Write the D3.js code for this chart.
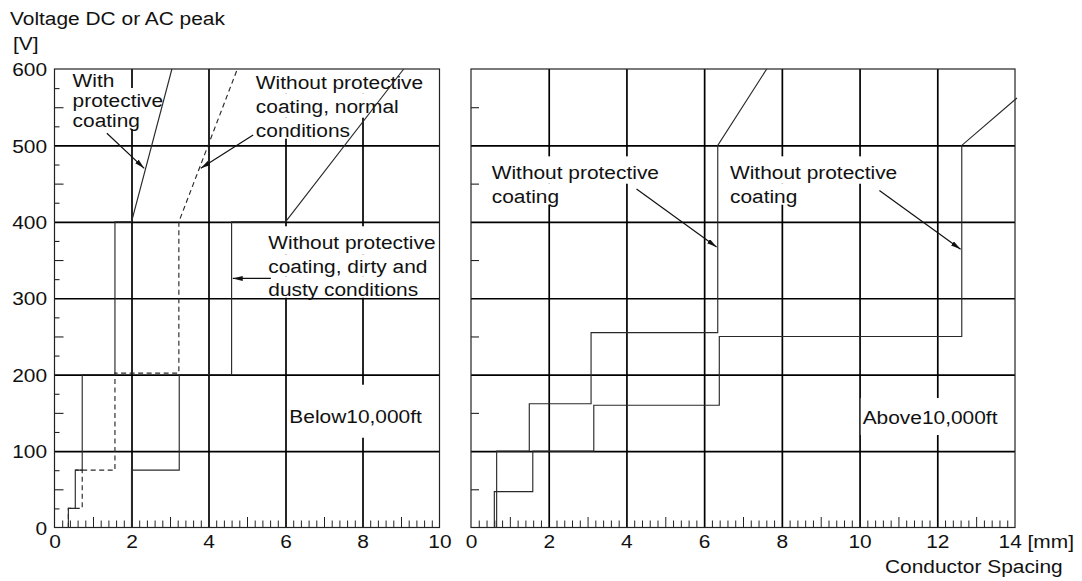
<!DOCTYPE html>
<html><head><meta charset="utf-8">
<script src="https://cdn.jsdelivr.net/npm/d3@7"></script>
<style>
body{margin:0;background:#fff;}
svg{display:block;}
text{font-family:"Liberation Sans",Arial,Helvetica,sans-serif;font-size:19px;fill:#111;}
</style></head><body>
<svg id="c" width="1082" height="581"></svg>
<script>
// ---------- data ----------
const yTicks = [0, 100, 200, 300, 400, 500, 600];
const xTicksLeft = [0, 2, 4, 6, 8, 10];
const xTicksRight = [0, 2, 4, 6, 8, 10, 12, 14];

// Below 10,000 ft
const coatedX = [0.36, 0.36, 0.54, 0.54, 0.72, 0.72, 1.57, 1.57, 2.0, 3.05];
const coatedY = [0, 25, 25, 75, 75, 200, 200, 400, 400, 600];
const normalX = [0.36, 0.36, 0.72, 0.72, 0.54, 1.57, 1.57, 3.23, 3.23, 4.75];
const normalY = [0, 25, 25, 75, 75, 75, 202, 202, 400, 600];
const dirtyX = [2.0, 2.0, 3.24, 3.24, 4.6, 4.6, 6.0, 9.07];
const dirtyY = [0, 75, 75, 200, 200, 400, 400, 600];

// Above 10,000 ft
const highAX = [0.66, 0.66, 1.5, 1.5, 3.09, 3.09, 6.35, 6.35, 7.61];
const highAY = [0, 100, 100, 162, 162, 255, 255, 500, 600];
const highBX = [0.6, 0.6, 1.59, 1.59, 3.16, 3.16, 6.39, 6.39, 12.63, 12.63, 14.05];
const highBY = [0, 47, 47, 100, 100, 160, 160, 250, 250, 500, 562];

const labelCoated = ["With", "protective", "coating"];
const labelNormal = ["Without protective", "coating, normal", "conditions"];
const labelDirty = ["Without protective", "coating, dirty and", "dusty conditions"];
const labelHigh = ["Without protective", "coating"];
const titleBelow = "Below10,000ft";
const titleAbove = "Above10,000ft";
const yTitle = ["Voltage DC or AC peak", "[V]"];
const xTitle = "Conductor Spacing";

// ---------- layout ----------
const SX = 1.1;
const svg = d3.select('#c');
const Y0 = 527.5, Y1 = 69;
const y = d3.scaleLinear().domain([0, 600]).range([Y0, Y1]);
const xL = d3.scaleLinear().domain([0, 10]).range([54.5, 439.5]);
const xR = d3.scaleLinear().domain([0, 14]).range([471, 1015]);

const defs = svg.append('defs');
defs.append('marker').attr('id', 'ah').attr('markerUnits', 'userSpaceOnUse')
  .attr('markerWidth', 11).attr('markerHeight', 6).attr('refX', 10).attr('refY', 2.5)
  .attr('orient', 'auto')
  .append('path').attr('d', 'M0,0 L10,2.5 L0,5 Z').attr('fill', '#111');

const gGrid = svg.append('g');
const gBox = svg.append('g');
const gFrame = svg.append('g');
const gTick = svg.append('g');
const gText = svg.append('g');
const gCurve = svg.append('g');
const gArrow = svg.append('g');

function panel(x, xTicks, yMinor) {
  const [x0, x1] = x.range();
  const xMax = x.domain()[1];
  // vertical grid
  gGrid.append('g').attr('transform', `translate(0,${Y0})`)
    .call(d3.axisBottom(x).tickValues(d3.range(2, xMax, 2)).tickSize(-(Y0 - Y1)).tickFormat(''))
    .call(g => g.select('.domain').remove())
    .selectAll('line').attr('stroke', '#000').attr('stroke-width', 1.7);
  // horizontal grid
  gGrid.append('g').attr('transform', `translate(${x0},0)`)
    .call(d3.axisLeft(y).tickValues([100, 200, 300, 400, 500]).tickSize(-(x1 - x0)).tickFormat(''))
    .call(g => g.select('.domain').remove())
    .selectAll('line').attr('stroke', '#000').attr('stroke-width', 1.7);
  // frame
  gFrame.append('rect').attr('x', x0).attr('y', Y1).attr('width', x1 - x0).attr('height', Y0 - Y1)
    .attr('fill', 'none').attr('stroke', '#222').attr('stroke-width', 1.2);
  // minor x ticks
  const idx = d3.range(1, xMax * 5).filter(i => i % 10 !== 0);
  const small = idx.filter(i => i % 5 !== 0).map(i => i / 5);
  const mid = idx.filter(i => i % 5 === 0).map(i => i / 5);
  [[small, 7], [mid, 10.5]].forEach(([vals, len]) => {
    gTick.append('g').attr('transform', `translate(0,${Y0})`)
      .call(d3.axisBottom(x).tickValues(vals).tickSize(-len).tickFormat(''))
      .call(g => g.select('.domain').remove())
      .selectAll('line').attr('stroke', '#222').attr('stroke-width', 1);
  });
  // minor y ticks
  yMinor.forEach(([vals, len]) => {
    gTick.append('g').attr('transform', `translate(${x0},0)`)
      .call(d3.axisLeft(y).tickValues(vals).tickSize(-len).tickFormat(''))
      .call(g => g.select('.domain').remove())
      .selectAll('line').attr('stroke', '#222').attr('stroke-width', 1.1);
  });
  // x tick labels
  const ax = gText.append('g').attr('transform', `translate(0,${Y0})`)
    .call(d3.axisBottom(x).tickValues(xTicks).tickSize(0).tickPadding(0)
      .tickFormat(d => d === 14 ? '14 [mm]' : d));
  ax.select('.domain').remove();
  ax.selectAll('text').attr('y', 21).attr('dy', 0).attr('transform', `scale(${SX},1)`)
    .filter(d => d === 14).attr('text-anchor', 'start').attr('x', -17 / SX);
}

const ys25 = d3.range(25, 600, 25).filter(v => v % 100 !== 0);
panel(xL, xTicksLeft, [[ys25.filter(v => v % 50 !== 0), 5], [ys25.filter(v => v % 50 === 0), 9]]);
panel(xR, xTicksRight, [[ys25.filter(v => v % 50 === 0), 8]]);

// y tick labels (left panel)
const ay = gText.append('g').attr('transform', `translate(${xL(0)},0)`)
  .call(d3.axisLeft(y).tickValues(yTicks).tickSize(0).tickPadding(0));
ay.select('.domain').remove();
ay.selectAll('text').attr('x', -7.5 / SX).attr('dy', '0.35em').attr('transform', `scale(${SX},1)`);

// ---------- text helpers ----------
function txt(px, py, s) {
  return gText.append('text').attr('transform', `translate(${px},${py}) scale(${SX},1)`).text(s);
}
function label(lines, px, baselines, padTop = 4, padBot = 2) {
  lines.forEach((s, i) => {
    const t = txt(px, baselines[i], s);
    const w = t.node().getComputedTextLength() * SX;
    const top = i === 0 ? baselines[i] - 19 - padTop : baselines[i] - 19;
    const bot = i === lines.length - 1 ? baselines[i] + padBot : baselines[i + 1] - 19;
    gBox.append('rect').attr('x', px - 2).attr('y', top).attr('width', w + 4)
      .attr('height', bot - top).attr('fill', '#fff');
  });
}

// axis titles
txt(10, 25, yTitle[0]);
txt(13, 50, yTitle[1]);
txt(885, 573, xTitle);

// in-plot labels (positions in data units)
label(labelCoated, xL(0.47), [575.8, 550.3, 524.1].map(y));
label(labelNormal, xL(5.23), [573.4, 542.8, 511.4].map(y));
label(labelDirty, xL(5.553), [364.1, 332.6, 303.3].map(y));
label([titleBelow], xL(6.1), [y(137.1)], 19, 15);
label(labelHigh, xR(0.533), [455.6, 425.0].map(y));
label(labelHigh, xR(6.665), [455.6, 425.0].map(y));
label([titleAbove], xR(10.08), [y(135.4)], 7, 11);

// ---------- curves ----------
function curve(x, xs, ys, dash) {
  const line = d3.line().x(d => x(d[0])).y(d => y(d[1]));
  gCurve.append('path').datum(d3.zip(xs, ys)).attr('d', line)
    .attr('fill', 'none').attr('stroke', '#2a2a2a').attr('stroke-width', 1.15)
    .attr('stroke-dasharray', dash || null);
}
curve(xL, normalX, normalY, '5,3.5');
curve(xL, coatedX, coatedY);
curve(xL, dirtyX, dirtyY);
curve(xR, highAX, highAY);
curve(xR, highBX, highBY);

// ---------- arrows ----------
function arrow(x, a, b) {
  gArrow.append('line').attr('x1', x(a[0])).attr('y1', y(a[1])).attr('x2', x(b[0])).attr('y2', y(b[1]))
    .attr('stroke', '#111').attr('stroke-width', 1.2).attr('marker-end', 'url(#ah)');
}
arrow(xL, [1.36, 516], [2.33, 470]);
arrow(xL, [5.16, 513.6], [3.80, 470]);
arrow(xL, [5.62, 326], [4.63, 326]);
arrow(xR, [4.26, 443], [6.32, 367]);
arrow(xR, [10.51, 441], [12.6, 364]);
</script>
</body></html>
